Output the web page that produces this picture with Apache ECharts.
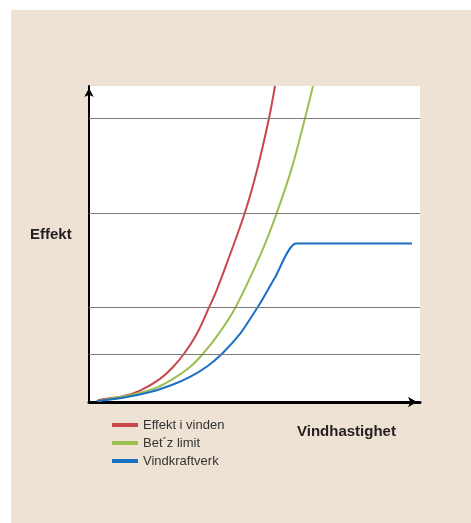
<!DOCTYPE html>
<html>
<head>
<meta charset="utf-8">
<script src="https://cdn.jsdelivr.net/npm/echarts@6/dist/echarts.min.js"></script>
<style>
html,body{margin:0;padding:0;background:#fff;}
#c{width:471px;height:523px;}
</style>
</head>
<body>
<div id="c"></div>
<script>
// Wind speed (relative units) and power (relative units)
const windRed   = [0.8, 1.1, 3.4, 5.1, 7.1, 8.4, 9.5, 10.8, 12.05, 12.7, 13.9, 15.6, 16.8, 18.0, 18.6];
const powerRed  = [0.02, 0.05, 0.12, 0.24, 0.49, 0.74, 1.02, 1.45, 2.02, 2.33, 3.0, 4.01, 4.9, 6.0, 6.68];
const windGreen = [0.8, 4.4, 6.8, 8.4, 10.1, 11.4, 13.0, 14.7, 17.3, 18.8, 20.3, 21.6, 22.4];
const powerGreen= [0.02, 0.16, 0.31, 0.49, 0.74, 1.02, 1.45, 2.02, 3.19, 4.01, 4.96, 6.0, 6.68];
const windBlue  = [0.8, 3.4, 6.1, 8.4, 10.1, 11.8, 13.3, 15.1, 16.4, 17.1, 18.6, 20.7, 32.3];
const powerBlue = [0.02, 0.09, 0.21, 0.37, 0.53, 0.75, 1.02, 1.44, 1.85, 2.08, 2.63, 3.35, 3.35];
const gridLevels = [1, 2, 4, 6];
const seriesNames = ['Effekt i vinden', 'Bet\u00b4z limit', 'Vindkraftverk'];
const axisNames = ['Effekt', 'Vindhastighet'];

const pairs = (xs, ys) => xs.map((x, i) => [x, ys[i]]);
const chart = echarts.init(document.getElementById('c'), null, {renderer: 'canvas'});
const font = '"Liberation Sans", Arial, Helvetica, sans-serif';

chart.setOption({
  animation: false,
  backgroundColor: '#ffffff',
  graphic: [
    {type: 'rect', z: -10, silent: true, shape: {x: 11, y: 10, width: 460, height: 513}, style: {fill: '#EEE2D4'}},
    {type: 'text', left: 30, top: 227, style: {text: axisNames[0], font: 'bold 15px ' + font, fill: '#231f20'}},
    {type: 'text', left: 297, top: 424, style: {text: axisNames[1], font: 'bold 15px ' + font, fill: '#231f20'}}
  ],
  grid: {left: 89, top: 86, right: 51, bottom: 121, show: true, backgroundColor: '#ffffff', borderWidth: 0},
  legend: {
    orient: 'vertical', left: 107, top: 413,
    itemWidth: 26, itemHeight: 4, itemGap: 4, icon: 'rect',
    textStyle: {fontFamily: font, fontSize: 13, color: '#333', lineHeight: 14},
    data: seriesNames
  },
  xAxis: {
    type: 'value', min: 0, max: 33.1,
    axisLine: {show: true, lineStyle: {color: '#000', width: 3}, symbol: ['none', 'arrow'], symbolSize: [8, 9], symbolOffset: [0, -3]},
    axisTick: {show: false}, axisLabel: {show: false}, splitLine: {show: false}
  },
  yAxis: {
    type: 'value', min: 0, max: 6.68,
    axisLine: {show: true, lineStyle: {color: '#000', width: 2}, symbol: ['none', 'arrow'], symbolSize: [7, 9], symbolOffset: [0, -2]},
    axisTick: {show: false}, axisLabel: {show: false}, splitLine: {show: false}
  },
  series: [
    {
      name: 'grid', type: 'line', data: [], silent: true,
      markLine: {
        silent: true, symbol: ['none', 'none'], label: {show: false},
        lineStyle: {color: '#7a7a7a', width: 1, type: 'solid'},
        data: gridLevels.map(v => ({yAxis: v}))
      }
    },
    {name: seriesNames[0], type: 'line', data: pairs(windRed, powerRed), smooth: 0.35, showSymbol: false, clip: true,
     lineStyle: {color: '#C8474A', width: 2}, itemStyle: {color: '#C8474A'}},
    {name: seriesNames[1], type: 'line', data: pairs(windGreen, powerGreen), smooth: 0.35, showSymbol: false, clip: true,
     lineStyle: {color: '#9BBF50', width: 2}, itemStyle: {color: '#9BBF50'}},
    {name: seriesNames[2], type: 'line', data: pairs(windBlue, powerBlue), smooth: 0.2, showSymbol: false, clip: true,
     lineStyle: {color: '#1A70C2', width: 2}, itemStyle: {color: '#1A70C2'}}
  ]
});
</script>
</body>
</html>
